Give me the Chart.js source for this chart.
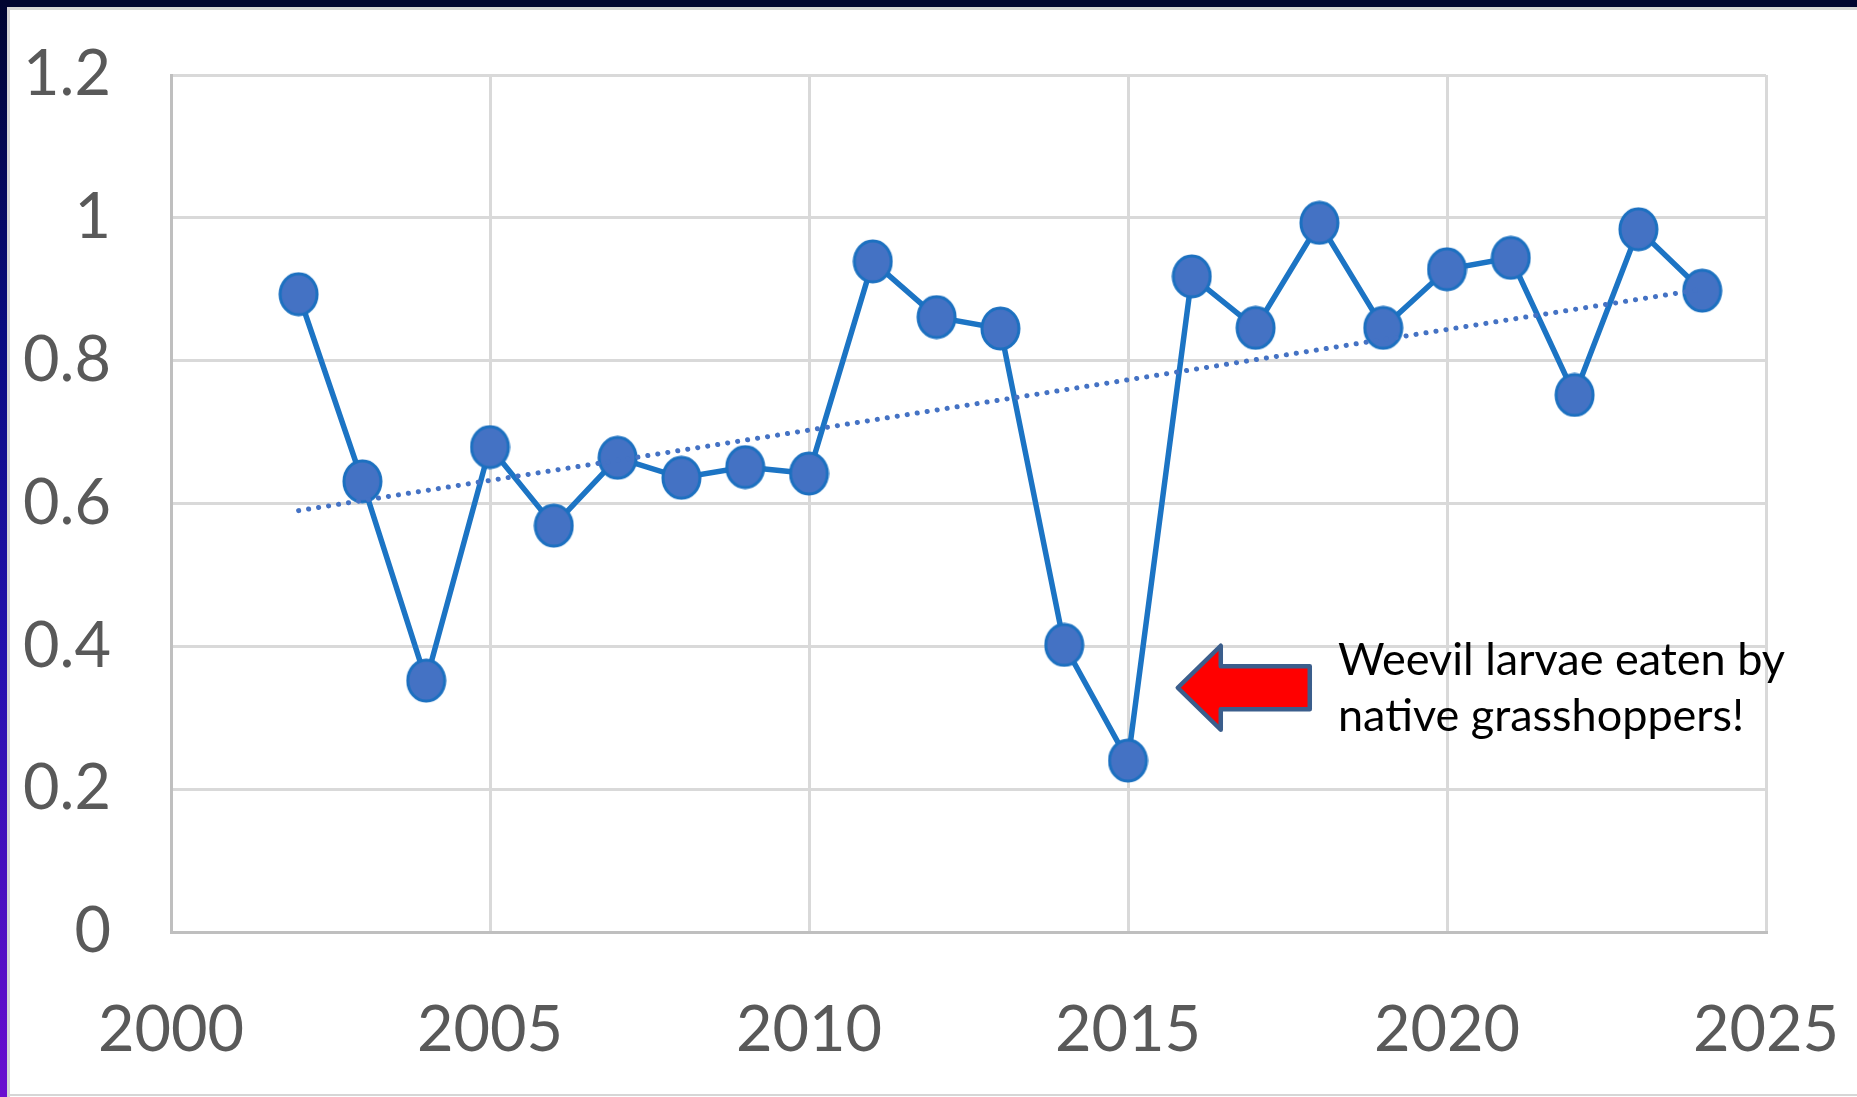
<!DOCTYPE html>
<html>
<head>
<meta charset="utf-8">
<script src="https://cdn.jsdelivr.net/npm/chart.js@4/dist/chart.umd.min.js"></script>
<style>
  html, body { margin: 0; padding: 0; background: #ffffff; overflow: hidden; }
  #c { display: block; }
</style>
</head>
<body>
<canvas id="c" width="1857" height="1097"></canvas>
<script>
// ---- data ----
const years = [2002, 2003, 2004, 2005, 2006, 2007, 2008, 2009, 2010, 2011, 2012, 2013,
               2014, 2015, 2016, 2017, 2018, 2019, 2020, 2021, 2022, 2023, 2024];
const values = [0.893, 0.631, 0.352, 0.679, 0.569, 0.664, 0.636, 0.651, 0.642, 0.939, 0.861, 0.845,
                0.402, 0.240, 0.918, 0.846, 0.993, 0.846, 0.928, 0.944, 0.752, 0.984, 0.898];
const trendYears = [2002, 2024];
const trendValues = [0.59, 0.90];
const xTickValues = [2000, 2005, 2010, 2015, 2020, 2025];
const xTickLabels = ['2000', '2005', '2010', '2015', '2020', '2025'];
const yTickValues = [0, 0.2, 0.4, 0.6, 0.8, 1.0, 1.2];
const yTickLabels = ['0', '0.2', '0.4', '0.6', '0.8', '1', '1.2'];
const noteLines = ['Weevil larvae eaten by', 'native grasshoppers!'];

// ---- ellipse marker ----
function makeMarker(w, h) {
  const cv = document.createElement('canvas');
  cv.width = w; cv.height = h;
  const g = cv.getContext('2d');
  g.beginPath();
  g.ellipse(w / 2, h / 2, w / 2 - 2, h / 2 - 2, 0, 0, Math.PI * 2);
  g.fillStyle = '#4472C4';
  g.fill();
  g.lineWidth = 3;
  g.strokeStyle = '#1C70C0';
  g.stroke();
  return cv;
}
const marker = makeMarker(41, 45);

const TICK_FONT = { family: 'Lato, "Open Sans", sans-serif', size: 63 };

const framePlugin = {
  id: 'frame',
  beforeDraw(chart) {
    const ctx = chart.ctx;
    const W = chart.width, H = chart.height;
    ctx.save();
    ctx.fillStyle = '#ffffff';
    ctx.fillRect(0, 0, W, H);
    ctx.fillStyle = '#000530';
    ctx.fillRect(0, 0, W, 7);
    const gr = ctx.createLinearGradient(0, 0, 0, H);
    gr.addColorStop(0, '#000530');
    gr.addColorStop(0.3, '#0A0C80');
    gr.addColorStop(0.6, '#2412AE');
    gr.addColorStop(1, '#6A0ED0');
    ctx.fillStyle = gr;
    ctx.fillRect(0, 0, 7, H);
    ctx.fillStyle = '#D6D6D6';
    ctx.fillRect(7, 7, W - 7, 3);
    ctx.fillRect(7, 7, 3, H - 7);
    ctx.fillRect(7, H - 3, W - 7, 2);
    ctx.restore();
  }
};

const notePlugin = {
  id: 'note',
  afterDraw(chart) {
    const ctx = chart.ctx;
    const xs = chart.scales.x, ys = chart.scales.y;
    ctx.save();
    const tipX = xs.getPixelForValue(2015.78);
    const tipY = ys.getPixelForValue(0.342);
    const headX = tipX + 43;
    const tailX = tipX + 132;
    const headHalf = 42, shaftHalf = 21.5;
    ctx.beginPath();
    ctx.moveTo(tipX, tipY);
    ctx.lineTo(headX, tipY - headHalf);
    ctx.lineTo(headX, tipY - shaftHalf);
    ctx.lineTo(tailX, tipY - shaftHalf);
    ctx.lineTo(tailX, tipY + shaftHalf);
    ctx.lineTo(headX, tipY + shaftHalf);
    ctx.lineTo(headX, tipY + headHalf);
    ctx.closePath();
    ctx.fillStyle = '#FF0000';
    ctx.fill();
    ctx.lineJoin = 'round';
    ctx.lineWidth = 4.5;
    ctx.strokeStyle = '#3B5E8C';
    ctx.stroke();
    ctx.fillStyle = '#000000';
    ctx.font = '45px Lato, "Open Sans", sans-serif';
    ctx.textAlign = 'left';
    ctx.textBaseline = 'alphabetic';
    ctx.fillText(noteLines[0], 1338, 675);
    ctx.fillText(noteLines[1], 1338, 731);
    ctx.restore();
  }
};

new Chart(document.getElementById('c'), {
  type: 'line',
  data: {
    datasets: [
      {
        label: 'Trend',
        data: trendYears.map((x, i) => ({ x: x, y: trendValues[i] })),
        borderColor: '#4472C4',
        borderWidth: 5,
        borderDash: [0.1, 10],
        borderCapStyle: 'round',
        pointRadius: 0,
        fill: false,
        tension: 0
      },
      {
        label: 'Series',
        data: years.map((x, i) => ({ x: x, y: values[i] })),
        borderColor: '#1C74C4',
        borderWidth: 5.5,
        pointStyle: marker,
        pointRadius: 20,
        fill: false,
        tension: 0
      }
    ]
  },
  options: {
    responsive: false,
    animation: false,
    devicePixelRatio: 1,
    layout: { padding: { left: 0, top: 75, right: 91, bottom: 0 } },
    plugins: {
      legend: { display: false },
      tooltip: { enabled: false },
      title: { display: false }
    },
    scales: {
      x: {
        type: 'linear',
        min: 2000,
        max: 2025,
        afterBuildTicks(scale) { scale.ticks = xTickValues.map(v => ({ value: v })); },
        afterFit(scale) {
          scale.height = 165;
          scale.paddingLeft = 0; scale.paddingRight = 0;
          scale.paddingTop = 0; scale.paddingBottom = 0;
        },
        ticks: {
          callback(value) { const i = xTickValues.indexOf(value); return i >= 0 ? xTickLabels[i] : ''; },
          font: TICK_FONT,
          color: '#595959',
          padding: 61,
          maxRotation: 0,
          autoSkip: false
        },
        grid: { color: '#D9D9D9', lineWidth: 3, drawTicks: false },
        border: { display: true, color: '#BFBFBF', width: 3 }
      },
      y: {
        type: 'linear',
        min: 0,
        max: 1.2,
        afterBuildTicks(scale) { scale.ticks = yTickValues.map(v => ({ value: v })); },
        afterFit(scale) {
          scale.width = 171;
          scale.paddingLeft = 0; scale.paddingRight = 0;
          scale.paddingTop = 0; scale.paddingBottom = 0;
        },
        ticks: {
          callback(value) {
            const i = yTickValues.findIndex(v => Math.abs(v - value) < 1e-9);
            return i >= 0 ? yTickLabels[i] : '';
          },
          font: TICK_FONT,
          color: '#595959',
          padding: 60,
          autoSkip: false
        },
        grid: { color: '#D9D9D9', lineWidth: 3, drawTicks: false },
        border: { display: true, color: '#BFBFBF', width: 3 }
      }
    }
  },
  plugins: [framePlugin, notePlugin]
});
</script>
</body>
</html>
